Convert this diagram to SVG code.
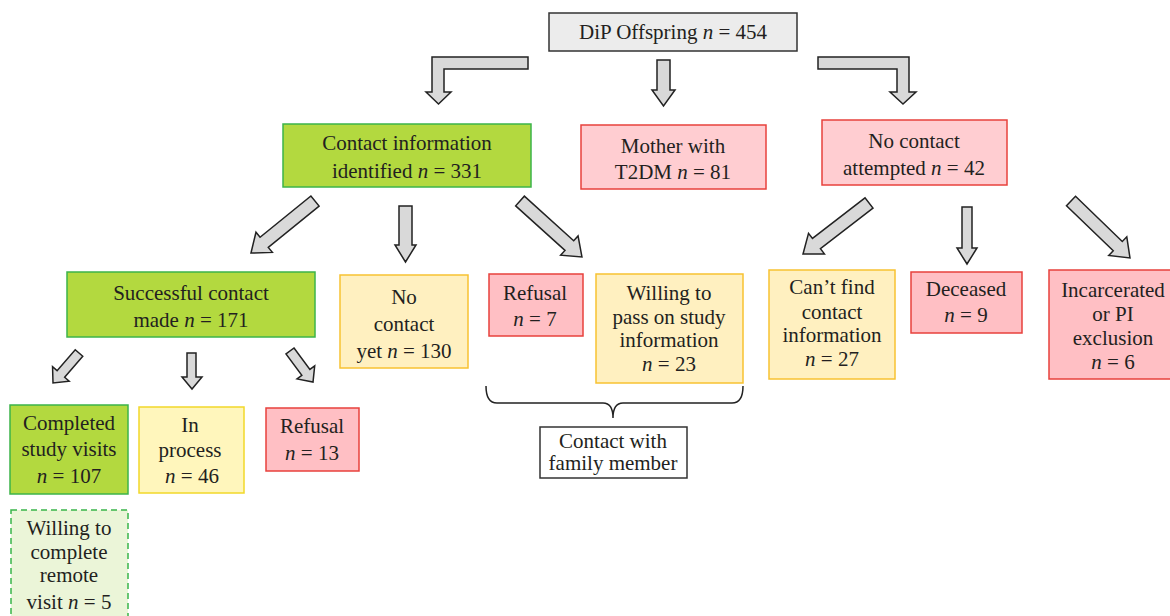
<svg xmlns="http://www.w3.org/2000/svg" width="1170" height="616" viewBox="0 0 1170 616">
<style>
text{font-family:"Liberation Serif","Times New Roman",serif;font-size:21px;fill:#231f20;text-anchor:middle}
.i{font-style:italic}
.gray{fill:#ececec;stroke:#333;stroke-width:1.5}
.green{fill:#b3d93f;stroke:#3cb44a;stroke-width:1.5}
.pinkl{fill:#ffcdd1;stroke:#e8413c;stroke-width:1.5}
.pink{fill:#ffbfc4;stroke:#e8413c;stroke-width:1.5}
.yel{fill:#fff0c0;stroke:#f8c232;stroke-width:1.5}
.yel2{fill:#fff6bc;stroke:#f2d82a;stroke-width:1.5}
.remote{fill:#ebf5d8;stroke:#3ab54a;stroke-width:1.5;stroke-dasharray:6 4}
.white{fill:#fff;stroke:#333;stroke-width:1.5}
.arr{fill:#d9d9d9;stroke:#222;stroke-width:1.5;stroke-linejoin:miter}
.brace{fill:none;stroke:#222;stroke-width:1.5}
</style>
<rect width="1170" height="616" fill="#fff"/>
<g id="connectors">
<path class="arr" d="M528,57 L432,57 L432,92 L426,92 L438.5,104 L451,92 L444,92 L444,69 L528,69 Z"/>
<path class="arr" d="M657,60 L670,60 L670,90 L675,90 L663.5,106 L652,90 L657,90 Z"/>
<path class="arr" d="M818,57 L909,57 L909,92 L916,92 L903,104 L890,92 L897,92 L897,69 L818,69 Z"/>
<path class="arr" transform="translate(315,201) rotate(140.9)" d="M0,-6.5 L65.5,-6.5 L65.5,-13 L82.5,0 L65.5,13 L65.5,6.5 L0,6.5 Z"/>
<path class="arr" d="M399,206 L412,206 L412,245 L416,245 L405.5,262 L395,245 L399,245 Z"/>
<path class="arr" transform="translate(520,201) rotate(42.1)" d="M0,-6.5 L66.5,-6.5 L66.5,-13 L83.5,0 L66.5,13 L66.5,6.5 L0,6.5 Z"/>
<path class="arr" transform="translate(869,203) rotate(142.3)" d="M0,-6.5 L66.4,-6.5 L66.4,-13 L83.4,0 L66.4,13 L66.4,6.5 L0,6.5 Z"/>
<path class="arr" d="M962,207 L972,207 L972,248 L977,248 L967,264 L957,248 L962,248 Z"/>
<path class="arr" transform="translate(1071,201) rotate(44)" d="M0,-6.5 L65,-6.5 L65,-13 L82,0 L65,13 L65,6.5 L0,6.5 Z"/>
<path class="arr" transform="translate(79,353) rotate(130.9)" d="M0,-5 L27.7,-5 L27.7,-11 L39.7,0 L27.7,11 L27.7,5 L0,5 Z"/>
<path class="arr" d="M187,353 L196,353 L196,377 L202,377 L192,389 L182,377 L187,377 Z"/>
<path class="arr" transform="translate(290,351) rotate(53.4)" d="M0,-5 L26.6,-5 L26.6,-11 L38.6,0 L26.6,11 L26.6,5 L0,5 Z"/>
<path class="brace" d="M486,386 Q486,403 497,403 L603,403 Q613,403 613,418 Q613,403 623,403 L732,403 Q743,403 743,386"/>
</g>
<g id="dip"><rect class="gray" x="549" y="13" width="248" height="38"/><text x="673" y="39">DiP Offspring <tspan class="i">n</tspan> = 454</text></g>
<g id="contact-info"><rect class="green" x="283" y="124" width="248" height="63"/><text x="407" y="150">Contact information</text><text x="407" y="178">identified <tspan class="i">n</tspan> = 331</text></g>
<g id="mother"><rect class="pinkl" x="581" y="125" width="185" height="64"/><text x="673" y="153">Mother with</text><text x="673" y="179">T2DM <tspan class="i">n</tspan> = 81</text></g>
<g id="no-contact-attempted"><rect class="pinkl" x="822" y="120" width="185" height="65"/><text x="914" y="148">No contact</text><text x="914" y="175">attempted <tspan class="i">n</tspan> = 42</text></g>
<g id="successful"><rect class="green" x="67" y="272" width="248" height="65"/><text x="191" y="300">Successful contact</text><text x="191" y="327">made <tspan class="i">n</tspan> = 171</text></g>
<g id="no-contact-yet"><rect class="yel" x="340" y="275" width="128" height="93"/><text x="404" y="304">No</text><text x="404" y="331">contact</text><text x="404" y="358">yet <tspan class="i">n</tspan> = 130</text></g>
<g id="refusal7"><rect class="pink" x="489" y="274" width="94" height="62"/><text x="535" y="300">Refusal</text><text x="535" y="326"><tspan class="i">n</tspan> = 7</text></g>
<g id="willing-pass"><rect class="yel" x="596" y="274" width="147" height="109"/><text x="669" y="300">Willing to</text><text x="669" y="324">pass on study</text><text x="669" y="347">information</text><text x="669" y="371"><tspan class="i">n</tspan> = 23</text></g>
<g id="cant-find"><rect class="yel" x="769" y="270" width="126" height="109"/><text x="832" y="294">Can’t find</text><text x="832" y="319">contact</text><text x="832" y="342">information</text><text x="832" y="366"><tspan class="i">n</tspan> = 27</text></g>
<g id="deceased"><rect class="pink" x="911" y="272" width="111" height="61"/><text x="966" y="296">Deceased</text><text x="966" y="322"><tspan class="i">n</tspan> = 9</text></g>
<g id="incarcerated"><rect class="pink" x="1049" y="270" width="130" height="109"/><text x="1113" y="297">Incarcerated</text><text x="1113" y="321">or PI</text><text x="1113" y="345">exclusion</text><text x="1113" y="369"><tspan class="i">n</tspan> = 6</text></g>
<g id="completed"><rect class="green" x="10" y="405" width="118" height="89"/><text x="69" y="430">Completed</text><text x="69" y="456">study visits</text><text x="69" y="483"><tspan class="i">n</tspan> = 107</text></g>
<g id="in-process"><rect class="yel2" x="139" y="407" width="105" height="86"/><text x="190" y="432">In</text><text x="190" y="457">process</text><text x="192" y="483"><tspan class="i">n</tspan> = 46</text></g>
<g id="refusal13"><rect class="pink" x="266" y="408" width="93" height="63"/><text x="312" y="433">Refusal</text><text x="312" y="460"><tspan class="i">n</tspan> = 13</text></g>
<g id="remote"><rect class="remote" x="11" y="510" width="117" height="120"/><text x="69" y="535">Willing to</text><text x="69" y="559">complete</text><text x="69" y="582">remote</text><text x="69" y="609">visit <tspan class="i">n</tspan> = 5</text></g>
<g id="family"><rect class="white" x="540" y="427" width="147" height="51"/><text x="613" y="448">Contact with</text><text x="613" y="470">family member</text></g>
</svg>
